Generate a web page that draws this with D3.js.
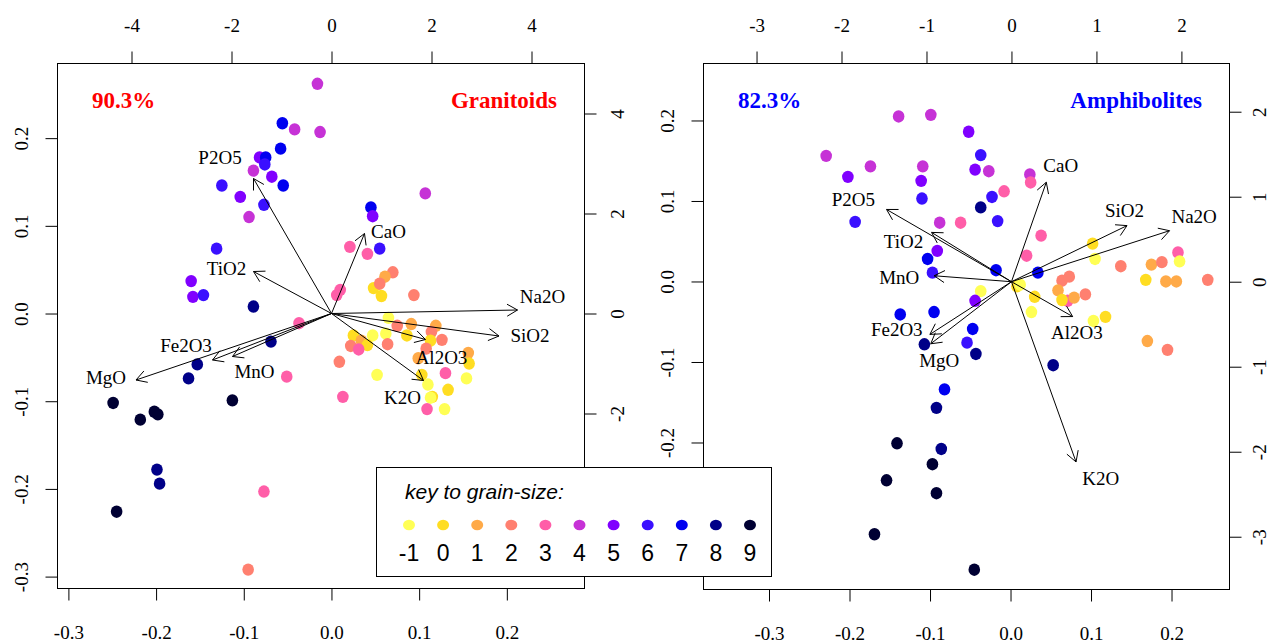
<!DOCTYPE html>
<html>
<head>
<meta charset="utf-8">
<script src="https://cdn.jsdelivr.net/npm/d3@7"></script>
<style>
body { margin: 0; background: #fff; }
svg { display: block; }
.axis text { font-family: "Liberation Serif", "Times New Roman", serif; font-size: 19px; fill: #000; }
.axis line { stroke: #000; }
</style>
</head>
<body>
<script>
// key to grain-size
var grainSizes = [-1, 0, 1, 2, 3, 4, 5, 6, 7, 8, 9];
var grainColors = ["#ffff55", "#ffdd22", "#ffaa48", "#ff8070", "#ff5ea8", "#c632d6", "#8000ff", "#3a10ff", "#0000f0", "#000088", "#000033"];

// granitoids: sample scores (PC1, PC2) and grain-size
var graPC1 = [-0.016, -0.056, -0.042, -0.013, -0.058, -0.082, -0.075, -0.076, -0.089, -0.068,
    -0.125, -0.055, -0.104, -0.077, -0.094, -0.131, -0.160, -0.158, -0.146, -0.089,
    0.107, 0.045, 0.047, 0.021, 0.041, 0.055, 0.070, 0.061, 0.048, 0.055,
    0.057, 0.094, 0.010, 0.006, 0.065, 0.075, 0.091, 0.119, 0.114, 0.062,
    0.047, 0.025, 0.034, 0.041, 0.022, 0.031, 0.064, 0.086, 0.113, 0.126,
    0.108, 0.156, 0.157, 0.099, 0.009, 0.130, 0.052, 0.154, 0.103, 0.110,
    0.115, 0.133, 0.013, 0.113, 0.109, 0.129, -0.037, -0.069, -0.051, -0.153,
    -0.163, -0.249, -0.218, -0.202, -0.198, -0.113, -0.199, -0.196, -0.245, -0.077,
    -0.095];
var graPC2 = [0.262, 0.217, 0.210, 0.207, 0.188, 0.178, 0.178, 0.170, 0.163, 0.156,
    0.146, 0.146, 0.133, 0.124, 0.110, 0.074, 0.037, 0.019, 0.021, 0.008,
    0.137, 0.121, 0.111, 0.076, 0.068, 0.074, 0.047, 0.042, 0.029, 0.034,
    0.020, 0.021, 0.027, 0.021, -0.005, -0.014, -0.012, -0.014, -0.021, -0.023,
    -0.025, -0.025, -0.031, -0.036, -0.037, -0.041, -0.035, -0.025, -0.031, -0.030,
    -0.040, -0.045, -0.057, -0.051, -0.055, -0.068, -0.070, -0.074, -0.070, -0.081,
    -0.095, -0.087, -0.095, -0.096, -0.109, -0.109, -0.011, -0.032, -0.072, -0.058,
    -0.074, -0.102, -0.121, -0.112, -0.115, -0.099, -0.178, -0.194, -0.226, -0.203,
    -0.292];
var graGrain = [4, 7, 4, 4, 7, 5, 7, 6, 4, 5,
    6, 7, 5, 6, 4, 6, 5, 5, 6, 8,
    4, 7, 5, 3, 3, 6, 2, 1, 0, 2,
    0, 2, 3, 3, -1, 2, 1, 1, 2, -1,
    -1, 0, 1, 0, 2, 3, 2, 0, 0, 2,
    2, 1, 0, 1, 2, 3, -1, -1, 0, -1,
    0, 0, 3, -1, 3, -1, 3, 8, 3, 8,
    8, 9, 9, 9, 9, 9, 8, 8, 9, 3,
    2];

// granitoids: variable loadings (arrow tips) and label positions
var graVars = ["P2O5", "TiO2", "CaO", "Na2O", "SiO2", "Al2O3", "K2O", "Fe2O3", "MnO", "MgO"];
var graLoad1 = [-1.56, -1.56, 0.66, 3.72, 3.35, 1.88, 1.84, -2.38, -1.98, -3.91];
var graLoad2 = [2.70, 0.84, 1.60, 0.07, -0.45, -0.52, -1.34, -0.93, -0.86, -1.33];
var graLab1 = [-2.23, -2.10, 1.14, 4.22, 3.97, 2.20, 1.42, -2.91, -1.54, -4.51];
var graLab2 = [3.12, 0.90, 1.64, 0.34, -0.44, -0.88, -1.68, -0.63, -1.16, -1.28];

// amphibolites: sample scores (PC1, PC2) and grain-size
var amPC1 = [-0.139, -0.099, -0.052, -0.229, -0.202, -0.174, -0.109, -0.037, -0.044, -0.027,
    -0.111, 0.024, 0.025, -0.008, -0.110, -0.023, -0.037, -0.193, -0.088, -0.062,
    -0.016, -0.091, -0.103, -0.097, 0.020, -0.018, -0.037, 0.008, 0.012, -0.044,
    -0.137, -0.095, -0.047, -0.054, -0.107, -0.043, 0.038, 0.034, 0.102, 0.105,
    0.137, 0.175, 0.188, 0.208, 0.210, 0.168, 0.193, 0.206, 0.245, 0.064,
    0.073, 0.059, 0.071, 0.064, 0.079, 0.093, 0.030, 0.026, 0.103, 0.118,
    0.170, 0.195, 0.053, -0.082, -0.092, -0.141, -0.086, -0.097, -0.154, -0.092,
    -0.169, -0.045];
var amPC2 = [0.205, 0.207, 0.186, 0.156, 0.130, 0.143, 0.143, 0.157, 0.139, 0.137,
    0.125, 0.133, 0.123, 0.112, 0.103, 0.105, 0.092, 0.074, 0.073, 0.073,
    0.075, 0.038, 0.028, 0.011, 0.032, 0.014, -0.012, -0.006, -0.004, -0.024,
    -0.041, -0.038, -0.059, -0.076, -0.078, -0.090, 0.057, 0.011, 0.047, 0.028,
    0.019, 0.021, 0.024, 0.036, 0.025, 0.002, 0.000, 0.000, 0.002, 0.001,
    0.006, -0.011, -0.024, -0.023, -0.020, -0.016, -0.019, -0.038, -0.049, -0.044,
    -0.074, -0.085, -0.104, -0.134, -0.157, -0.201, -0.208, -0.227, -0.247, -0.263,
    -0.314, -0.358];
var amGrain = [4, 4, 5, 4, 5, 4, 4, 6, 5, 4,
    5, 4, 3, 3, 6, 6, 8, 6, 4, 3,
    6, 5, 7, 6, 3, 7, -1, 0, -1, 5,
    7, 7, 7, 6, 8, 8, 3, 7, 0, -1,
    2, 1, 2, 3, -1, 0, 1, 1, 2, 2,
    2, 1, 3, 0, 1, 2, 0, -1, -1, 0,
    1, 2, 8, 7, 8, 9, 8, 9, 9, 9,
    9, 9];

// amphibolites: variable loadings (arrow tips) and label positions
var amVars = ["P2O5", "TiO2", "MnO", "Fe2O3", "MgO", "CaO", "SiO2", "Na2O", "Al2O3", "K2O"];
var amLoad1 = [-1.47, -0.94, -0.91, -0.96, -0.95, 0.41, 1.36, 1.86, 0.72, 0.76];
var amLoad2 = [0.85, 0.58, 0.07, -0.62, -0.73, 1.17, 0.66, 0.60, -0.41, -2.12];
var amLab1 = [-1.86, -1.27, -1.32, -1.35, -0.85, 0.58, 1.33, 2.15, 0.77, 1.05];
var amLab2 = [0.97, 0.47, 0.05, -0.56, -0.92, 1.37, 0.84, 0.77, -0.59, -2.31];

// tick labels
var graScoreTicks = [-0.3, -0.2, -0.1, 0.0, 0.1, 0.2];
var graLoadTicks = [-4, -2, 0, 2, 4];
var amScoreTicks = [-0.3, -0.2, -0.1, 0.0, 0.1, 0.2];
var amLoadTicks = [-3, -2, -1, 0, 1, 2];

var W = 1269, H = 643;
var serif = '"Liberation Serif", "Times New Roman", serif';
var sans = '"Liberation Sans", Arial, sans-serif';

var svg = d3.select("body").append("svg")
    .attr("width", W)
    .attr("height", H);

function colorOf(g){
    return grainColors[grainSizes.indexOf(g)];
}

function drawPanel(p){

    var g = svg.append("g");

    // scales: sample scores (bottom/left) and loadings (top/right)
    var xs = d3.scaleLinear().domain(p.xScore).range([p.left, p.right]);
    var ys = d3.scaleLinear().domain(p.yScore).range([p.bottom, p.top]);
    var xl = d3.scaleLinear().domain(p.xLoad).range([p.left, p.right]);
    var yl = d3.scaleLinear().domain(p.yLoad).range([p.bottom, p.top]);

    var points = p.pc1.map(function(d, i){
        return {x: d, y: p.pc2[i], grain: p.grain[i]};
    });

    g.selectAll("ellipse.pt")
        .data(points)
        .enter()
        .append("ellipse")
        .attr("class", "pt")
        .attr("cx", function(d){ return xs(d.x); })
        .attr("cy", function(d){ return ys(d.y); })
        .attr("rx", 5.8)
        .attr("ry", 6.2)
        .attr("fill", function(d){ return colorOf(d.grain); });

    // arrows
    var x0 = xl(0), y0 = yl(0);
    var head = 12, spread = Math.PI / 6;
    g.selectAll("path.arrow")
        .data(p.vars)
        .enter()
        .append("path")
        .attr("class", "arrow")
        .attr("d", function(d, i){
            var x1 = xl(p.load1[i]), y1 = yl(p.load2[i]);
            var a = Math.atan2(y1 - y0, x1 - x0) + Math.PI;
            return "M" + x0 + "," + y0 + "L" + x1 + "," + y1 +
                "M" + (x1 + head * Math.cos(a - spread)) + "," + (y1 + head * Math.sin(a - spread)) +
                "L" + x1 + "," + y1 +
                "L" + (x1 + head * Math.cos(a + spread)) + "," + (y1 + head * Math.sin(a + spread));
        })
        .attr("fill", "none")
        .attr("stroke", "#000")
        .attr("stroke-width", 1);

    g.selectAll("text.var")
        .data(p.vars)
        .enter()
        .append("text")
        .attr("class", "var")
        .attr("x", function(d, i){ return xl(p.lab1[i]); })
        .attr("y", function(d, i){ return yl(p.lab2[i]); })
        .attr("dy", "0.35em")
        .attr("text-anchor", "middle")
        .attr("font-family", serif)
        .attr("font-size", 19)
        .text(function(d){ return d; });

    // box
    g.append("rect")
        .attr("x", p.left + 0.5)
        .attr("y", p.top + 0.5)
        .attr("width", p.right - p.left)
        .attr("height", p.bottom - p.top)
        .attr("fill", "none")
        .attr("stroke", "#000");

    var fmt1 = function(d){ return d.toFixed(1); };
    var fmt0 = function(d){ return String(d); };

    // bottom axis
    g.append("g")
        .attr("class", "axis")
        .attr("transform", "translate(0," + (p.bottom + 0.5) + ")")
        .call(d3.axisBottom(xs).tickValues(p.scoreTicks).tickFormat(fmt1).tickSize(12).tickSizeOuter(0).tickPadding(25))
        .call(function(a){ a.select(".domain").remove(); });

    // left axis
    g.append("g")
        .attr("class", "axis")
        .attr("transform", "translate(" + (p.left + 0.5) + ",0)")
        .call(d3.axisLeft(ys).tickValues(p.scoreTicks).tickFormat(fmt1).tickSize(12).tickSizeOuter(0))
        .call(function(a){ a.select(".domain").remove(); })
        .selectAll("text")
        .attr("x", 0)
        .attr("y", -30)
        .attr("dy", null)
        .attr("text-anchor", "middle")
        .attr("transform", "rotate(-90)");

    // top axis
    g.append("g")
        .attr("class", "axis")
        .attr("transform", "translate(0," + (p.top + 0.5) + ")")
        .call(d3.axisTop(xl).tickValues(p.loadTicks).tickFormat(fmt0).tickSize(12).tickSizeOuter(0).tickPadding(20))
        .call(function(a){ a.select(".domain").remove(); });

    // right axis
    g.append("g")
        .attr("class", "axis")
        .attr("transform", "translate(" + (p.right + 0.5) + ",0)")
        .call(d3.axisRight(yl).tickValues(p.loadTicks).tickFormat(fmt0).tickSize(12).tickSizeOuter(0))
        .call(function(a){ a.select(".domain").remove(); })
        .selectAll("text")
        .attr("x", 0)
        .attr("y", p.rightLabel)
        .attr("dy", null)
        .attr("text-anchor", "middle")
        .attr("transform", "rotate(-90)");

    // variance explained and rock type
    g.append("text")
        .attr("x", p.left + 35)
        .attr("y", 108)
        .attr("font-family", serif)
        .attr("font-weight", "bold")
        .attr("font-size", 23)
        .attr("fill", p.color)
        .text(p.pct);

    g.append("text")
        .attr("x", p.right - 27)
        .attr("y", 108)
        .attr("text-anchor", "end")
        .attr("font-family", serif)
        .attr("font-weight", "bold")
        .attr("font-size", 23)
        .attr("fill", p.color)
        .text(p.title);
}

drawPanel({
    left: 57, right: 584, top: 63, bottom: 588,
    xScore: [-0.313, 0.288], yScore: [-0.313, 0.2857],
    xLoad: [-5.49, 5.05], yLoad: [-5.49, 5.01],
    pc1: graPC1, pc2: graPC2, grain: graGrain,
    vars: graVars, load1: graLoad1, load2: graLoad2, lab1: graLab1, lab2: graLab2,
    scoreTicks: graScoreTicks, loadTicks: graLoadTicks, rightLabel: 39,
    pct: "90.3%", title: "Granitoids", color: "#ff0000"
});

drawPanel({
    left: 703, right: 1229, top: 63, bottom: 589,
    xScore: [-0.382, 0.2714], yScore: [-0.382, 0.2714],
    xLoad: [-3.63, 2.56], yLoad: [-3.615, 2.573],
    pc1: amPC1, pc2: amPC2, grain: amGrain,
    vars: amVars, load1: amLoad1, load2: amLoad2, lab1: amLab1, lab2: amLab2,
    scoreTicks: amScoreTicks, loadTicks: amLoadTicks, rightLabel: 36,
    pct: "82.3%", title: "Amphibolites", color: "#0000ff"
});

// legend, drawn over both panels
var key = svg.append("g");

key.append("rect")
    .attr("x", 376.5)
    .attr("y", 467.5)
    .attr("width", 395)
    .attr("height", 109)
    .attr("fill", "#fff")
    .attr("stroke", "#000");

key.append("text")
    .attr("x", 405)
    .attr("y", 499)
    .attr("font-family", sans)
    .attr("font-style", "italic")
    .attr("font-size", 21)
    .text("key to grain-size:");

var kx = d3.scalePoint().domain(grainSizes).range([409, 750]);

key.selectAll("ellipse")
    .data(grainSizes)
    .enter()
    .append("ellipse")
    .attr("cx", function(d){ return kx(d); })
    .attr("cy", 525)
    .attr("rx", 6)
    .attr("ry", 5.3)
    .attr("fill", function(d){ return colorOf(d); });

key.selectAll("text.num")
    .data(grainSizes)
    .enter()
    .append("text")
    .attr("class", "num")
    .attr("x", function(d){ return kx(d); })
    .attr("y", 553)
    .attr("dy", "0.35em")
    .attr("text-anchor", "middle")
    .attr("font-family", sans)
    .attr("font-size", 23)
    .text(function(d){ return d; });
</script>
</body>
</html>
